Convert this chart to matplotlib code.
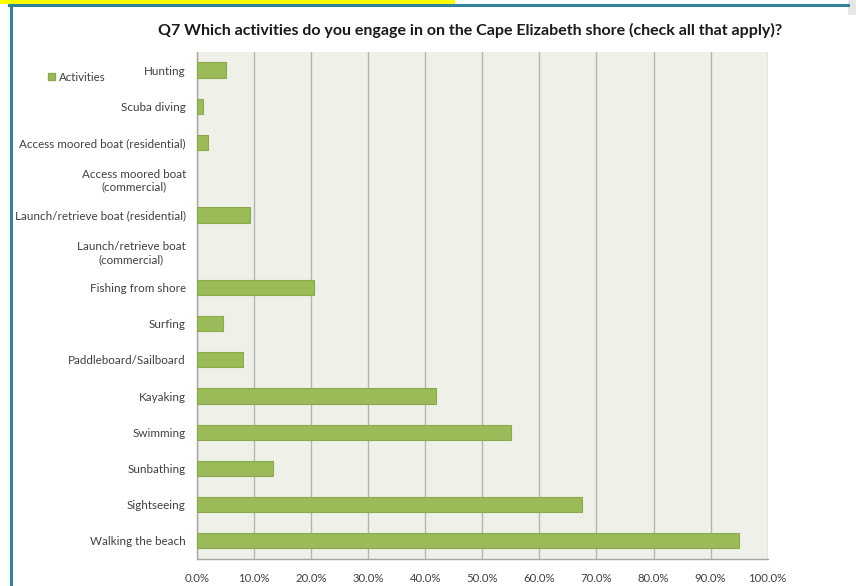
import matplotlib.pyplot as plt
from matplotlib.patches import Rectangle, Patch
from matplotlib.lines import Line2D

activities = ["Hunting", "Scuba diving", "Access moored boat (residential)",
              "Access moored boat\n(commercial)", "Launch/retrieve boat (residential)",
              "Launch/retrieve boat\n(commercial)", "Fishing from shore", "Surfing",
              "Paddleboard/Sailboard", "Kayaking", "Swimming", "Sunbathing",
              "Sightseeing", "Walking the beach"]
share = [5.1, 1.1, 2.0, 0.0, 9.3, 0.0, 20.5, 4.5, 8.1, 41.9, 55.0, 13.4, 67.4, 94.9]
xticks = [0, 10, 20, 30, 40, 50, 60, 70, 80, 90, 100]

plt.rcParams["font.family"] = ["Lato", "DejaVu Sans"]

fig = plt.figure(figsize=(8.56, 5.86), dpi=100)
ax = fig.add_axes([0.2301, 0.0461, 0.6667, 0.8652])
ax.set_facecolor("#eff1e9")

pos = list(range(len(activities)))
# no outline on empty categories
edge_w = [0.8 if v > 0 else 0 for v in share]
ax.barh(pos, share, height=0.42, color="#9bbb59", edgecolor="#8aaa4c",
        linewidth=edge_w, zorder=3)
ax.set_ylim(len(activities) - 0.5, -0.5)
ax.set_xlim(0, 100)

ax.set_xticks(xticks)
ax.set_xticklabels([f"{v:.1f}%" for v in xticks], fontsize=8.2, color="#404040")
ax.set_yticks(pos)
ax.set_yticklabels(activities, fontsize=8.35, color="#404040", multialignment="center")
ax.tick_params(length=0)
ax.tick_params(axis="x", pad=10)
ax.tick_params(axis="y", pad=8)

ax.grid(axis="x", color="#b4b4b4", linewidth=1, zorder=1)
for side in ["top", "right"]:
    ax.spines[side].set_visible(False)
for side in ["left", "bottom"]:
    ax.spines[side].set_color("#a6a6a6")
    ax.spines[side].set_linewidth(1)

fig.text(0.549, 0.948,
         "Q7 Which activities do you engage in on the Cape Elizabeth shore (check all that apply)?",
         ha="center", va="center", fontsize=11.5, fontweight="bold", color="#1a1a1a")

fig.legend(handles=[Patch(facecolor="#9bbb59", edgecolor="#8aaa4c", label="Activities")],
           loc="center left", bbox_to_anchor=(0.0435, 0.868), frameon=False,
           fontsize=8.3, handlelength=0.6, handleheight=0.6, handletextpad=0.35,
           labelcolor="#404040")

# highlighted strip and framing lines along the top and left
fig.add_artist(Rectangle((0, 0.993), 0.532, 0.007, transform=fig.transFigure,
                         facecolor="#ffff00", edgecolor="none"))
fig.add_artist(Rectangle((0.991, 0.975), 0.009, 0.025, transform=fig.transFigure,
                         facecolor="#e6e6e6", edgecolor="none"))
fig.add_artist(Line2D([0.011, 0.991], [0.991, 0.991], transform=fig.transFigure,
                      color="#31849b", linewidth=2.2))
fig.add_artist(Line2D([0.0128, 0.0128], [0.0, 0.991], transform=fig.transFigure,
                      color="#31849b", linewidth=2.2))

fig.savefig("out.png", dpi=100)
